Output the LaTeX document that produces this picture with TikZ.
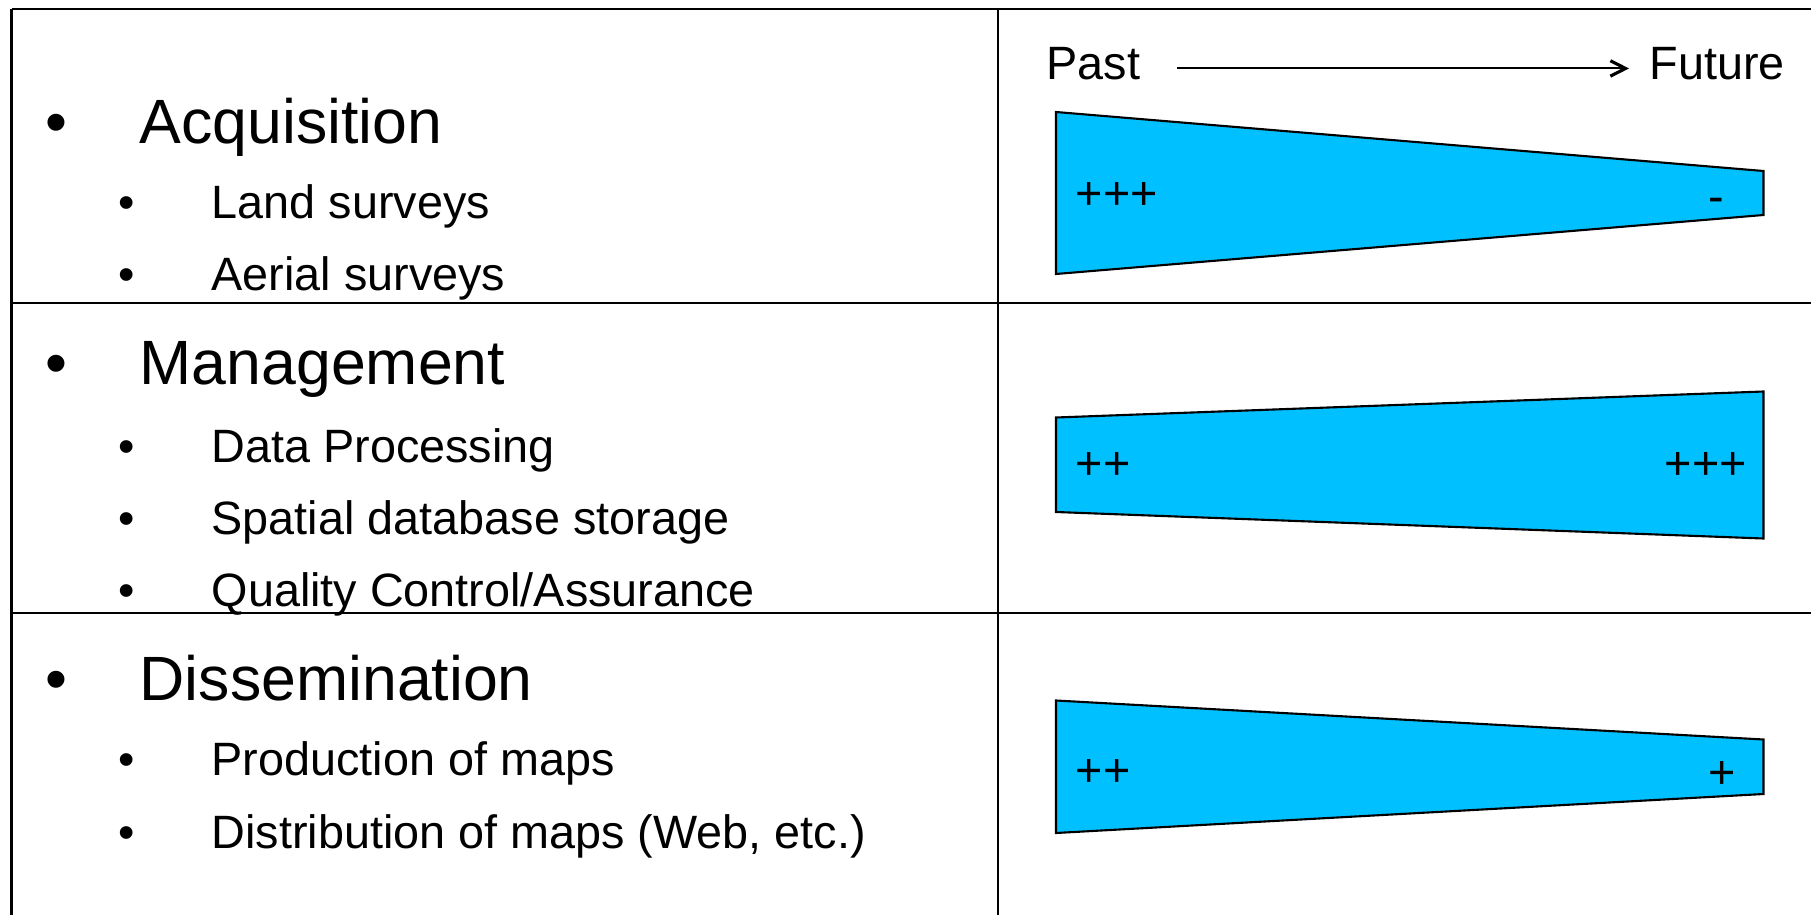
\documentclass[tikz,border=0pt]{standalone}
\usepackage{fontspec}
\setmainfont{Liberation Sans}
\usetikzlibrary{arrows.meta}
\definecolor{cBand}{RGB}{0,192,255}

\begin{document}
\begin{tikzpicture}[x=0.01cm,y=-0.01cm,
  rule/.style={line width=0.6pt},
  band/.style={fill=cBand,draw=black,line width=0.6pt},
  head/.style={anchor=base west,inner sep=0pt,font=\fontsize{17.8}{21}\selectfont},
  headdot/.style={anchor=base,inner sep=0pt,font=\fontsize{17.8}{21}\selectfont},
  item/.style={anchor=base west,inner sep=0pt,font=\fontsize{13.3}{16}\selectfont},
  itemdot/.style={anchor=base,inner sep=0pt,font=\fontsize{13.3}{16}\selectfont},
  sign/.style={anchor=base west,inner sep=0pt,font=\fontsize{13.3}{16}\selectfont}]
\useasboundingbox (0,0) rectangle (1811,915);
% table lines
\draw[rule] (11.5,9) -- (1811,9);
\draw[rule] (11.5,302.6) -- (1811,302.6);
\draw[rule] (11.5,613.3) -- (1811,613.3);
\draw[rule] (11.5,9) -- (11.5,915);
\draw[rule] (998,9) -- (998,915);
% left column
\node[headdot] (acqdot) at (56,143.3) {•};
\node[head] (acq) at (139,143.3) {Acquisition};
\node[itemdot] (landdot) at (127,218.3) {•};
\node[item] (land) at (211,218.3) {Land surveys};
\node[itemdot] (aerialdot) at (127,290) {•};
\node[item] (aerial) at (211,290) {Aerial surveys};
\node[headdot] (mgmtdot) at (56,384.6) {•};
\node[head] (mgmt) at (139,384.6) {Management};
\node[itemdot] (procdot) at (127,462) {•};
\node[item] (proc) at (211,462) {Data Processing};
\node[itemdot] (storedot) at (127,534.8) {•};
\node[item] (store) at (211,534.8) {Spatial database storage};
\node[itemdot] (qualdot) at (127,606.5) {•};
\node[item] (qual) at (211,606.5) {Quality Control/Assurance};
\node[headdot] (dissdot) at (56,700) {•};
\node[head] (diss) at (139,700) {Dissemination};
\node[itemdot] (proddot) at (127,775) {•};
\node[item] (prod) at (211,775) {Production of maps};
\node[itemdot] (distdot) at (127,848.3) {•};
\node[item] (dist) at (211,848.3) {Distribution of maps (Web, etc.)};
% time axis
\node[item] (past) at (1046,80) {Past};
\node[item] (future) at (1649,80) {Future};
\draw[line width=0.6pt,-{Straight Barb[length=4.3pt,width=4.4pt,line width=0.9pt]}]
  ([xshift=0.36cm,yshift=-0.043cm]past.east) -- ([xshift=-0.2cm,yshift=-0.043cm]future.west);
% bands
\draw[band] (1056,112) -- (1763.5,171) -- (1763.5,215) -- (1056,274) -- cycle;
\draw[band] (1056,417.5) -- (1763.5,391.5) -- (1763.5,538.5) -- (1056,512) -- cycle;
\draw[band] (1056,700.5) -- (1763.5,739.5) -- (1763.5,794) -- (1056,833) -- cycle;
\node[sign] (acqpast) at (1075,209.5) {+++};
\node[sign] (acqfut) at (1707.5,212.5) {-};
\node[sign] (mgmtpast) at (1075,479) {++};
\node[sign] (mgmtfut) at (1664,479.5) {+++};
\node[sign] (disspast) at (1075,786.5) {++};
\node[sign] (dissfut) at (1707.5,788) {+};
\end{tikzpicture}
\end{document}
